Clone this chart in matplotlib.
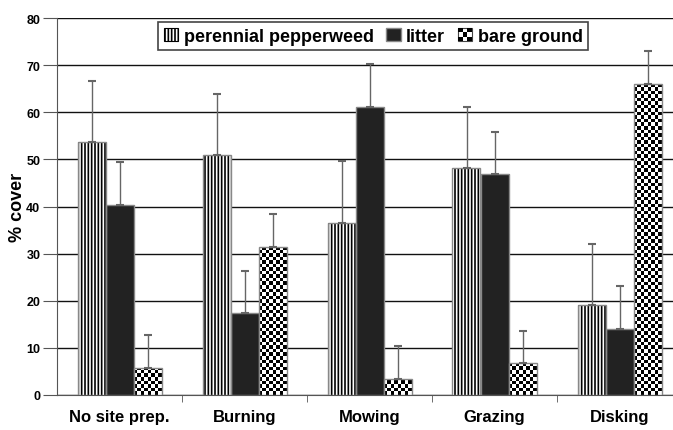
import numpy as np
import matplotlib.pyplot as plt
from matplotlib.patches import Patch, Rectangle
from matplotlib.legend_handler import HandlerBase

plt.rcParams['font.family'] = ['Liberation Sans', 'DejaVu Sans']
plt.rcParams['font.weight'] = 'bold'
plt.rcParams['hatch.linewidth'] = 1.2

# data
treatments = ['No site prep.', 'Burning', 'Mowing', 'Grazing', 'Disking']
pepperweed = [53.7, 51.0, 36.6, 48.1, 19.2]
pepperweed_err = [13.0, 12.8, 13.0, 13.0, 12.9]
litter = [40.4, 17.3, 61.2, 47.0, 14.1]
litter_err = [9.0, 9.0, 9.0, 8.9, 9.0]
bare = [5.8, 31.5, 3.3, 6.7, 66.1]
bare_err = [7.0, 7.0, 7.0, 6.9, 6.9]


class CheckerHandler(HandlerBase):
    def create_artists(self, legend, orig_handle, xdescent, ydescent, width, height,
                       fontsize, trans):
        arts = [Rectangle((-xdescent, -ydescent), width, height, facecolor='white',
                          edgecolor='#444444', lw=0.8, transform=trans)]
        n = 3
        cw, ch = width / n, height / n
        for i in range(n):
            for j in range(n):
                if (i + j) % 2 == 0:
                    arts.append(Rectangle((-xdescent + i * cw, -ydescent + j * ch), cw, ch,
                                          facecolor='black', lw=0, transform=trans))
        return arts


fig = plt.figure(figsize=(6.73, 4.31), dpi=100)
ax = fig.add_axes([57 / 673, 1 - 396 / 431, 625 / 673, 377 / 431])

x = np.arange(len(treatments))
w = 0.224
edge = '#888888'

ax.bar(x - w, pepperweed, w, color='white', edgecolor='black', hatch='|||||',
       linewidth=0, zorder=3)
ax.bar(x - w, pepperweed, w, color='none', edgecolor=edge, linewidth=1, zorder=4)
ax.bar(x, litter, w, color='#222222', edgecolor=edge, linewidth=1, zorder=3)
b3 = ax.bar(x + w, bare, w, color='none', edgecolor=edge, linewidth=1, zorder=4)

# checkerboard fill for bare ground, clipped to each bar
for bar in b3:
    x0, y0 = bar.get_x(), bar.get_y()
    bw, bh = bar.get_width(), bar.get_height()
    nx = 8
    ny = max(1, int(np.ceil(bh / 0.75)))
    checker = (np.indices((ny, nx)).sum(axis=0) % 2).astype(float)
    im = ax.imshow(checker, cmap='gray', extent=[x0, x0 + bw, y0, y0 + ny * 0.75],
                   origin='lower', interpolation='nearest', aspect='auto', zorder=3)
    im.set_clip_path(bar)

for xs, vals, errs in [(x - w, pepperweed, pepperweed_err), (x, litter, litter_err),
                       (x + w, bare, bare_err)]:
    ax.errorbar(xs, vals, yerr=[np.zeros(len(errs)), errs], fmt='none',
                ecolor='#666666', elinewidth=1, capsize=3, capthick=1.5, zorder=5)

ax.set_xlim(-0.5, len(treatments) - 0.5)
ax.set_ylim(0, 80)
ax.set_yticks(range(0, 81, 10))
ax.yaxis.grid(True, color='#111111', linewidth=1, zorder=0)
ax.set_axisbelow(True)

ax.set_xticks(x)
ax.set_xticklabels(treatments, fontsize=12, fontweight='bold')
ax.set_xticks(np.arange(0.5, len(treatments) - 0.5, 1), minor=True)
ax.tick_params(axis='x', which='major', length=0, pad=10)
ax.tick_params(axis='x', which='minor', length=5, color='#555555', direction='out')
ax.tick_params(axis='y', labelsize=9, length=10, color='#555555', pad=2)
for lbl in ax.get_yticklabels():
    lbl.set_fontweight('bold')

for s in ['top', 'right']:
    ax.spines[s].set_visible(False)
ax.spines['left'].set_color('#555555')
ax.spines['bottom'].set_color('#555555')

ax.set_ylabel('% cover', fontsize=13, fontweight='bold')
ax.yaxis.set_label_coords(-0.049, 0.5)

bare_handle = Patch(facecolor='white', edgecolor='black')
handles = [Patch(facecolor='white', edgecolor='black', hatch='|||||', linewidth=0.8),
           Patch(facecolor='#222222', edgecolor=edge),
           bare_handle]
leg = ax.legend(handles, ['perennial pepperweed', 'litter', 'bare ground'], ncol=3,
                loc='upper center', bbox_to_anchor=(0.506, 0.989), fontsize=13,
                frameon=True, fancybox=False, edgecolor='#444444', framealpha=1,
                handlelength=0.8, handleheight=0.8, handletextpad=0.3,
                columnspacing=0.7, borderpad=0.3, borderaxespad=0,
                handler_map={bare_handle: CheckerHandler()})
leg.get_frame().set_linewidth(1.2)
for t in leg.get_texts():
    t.set_fontweight('bold')
leg.set_zorder(10)

fig.savefig('out.png', dpi=100)
